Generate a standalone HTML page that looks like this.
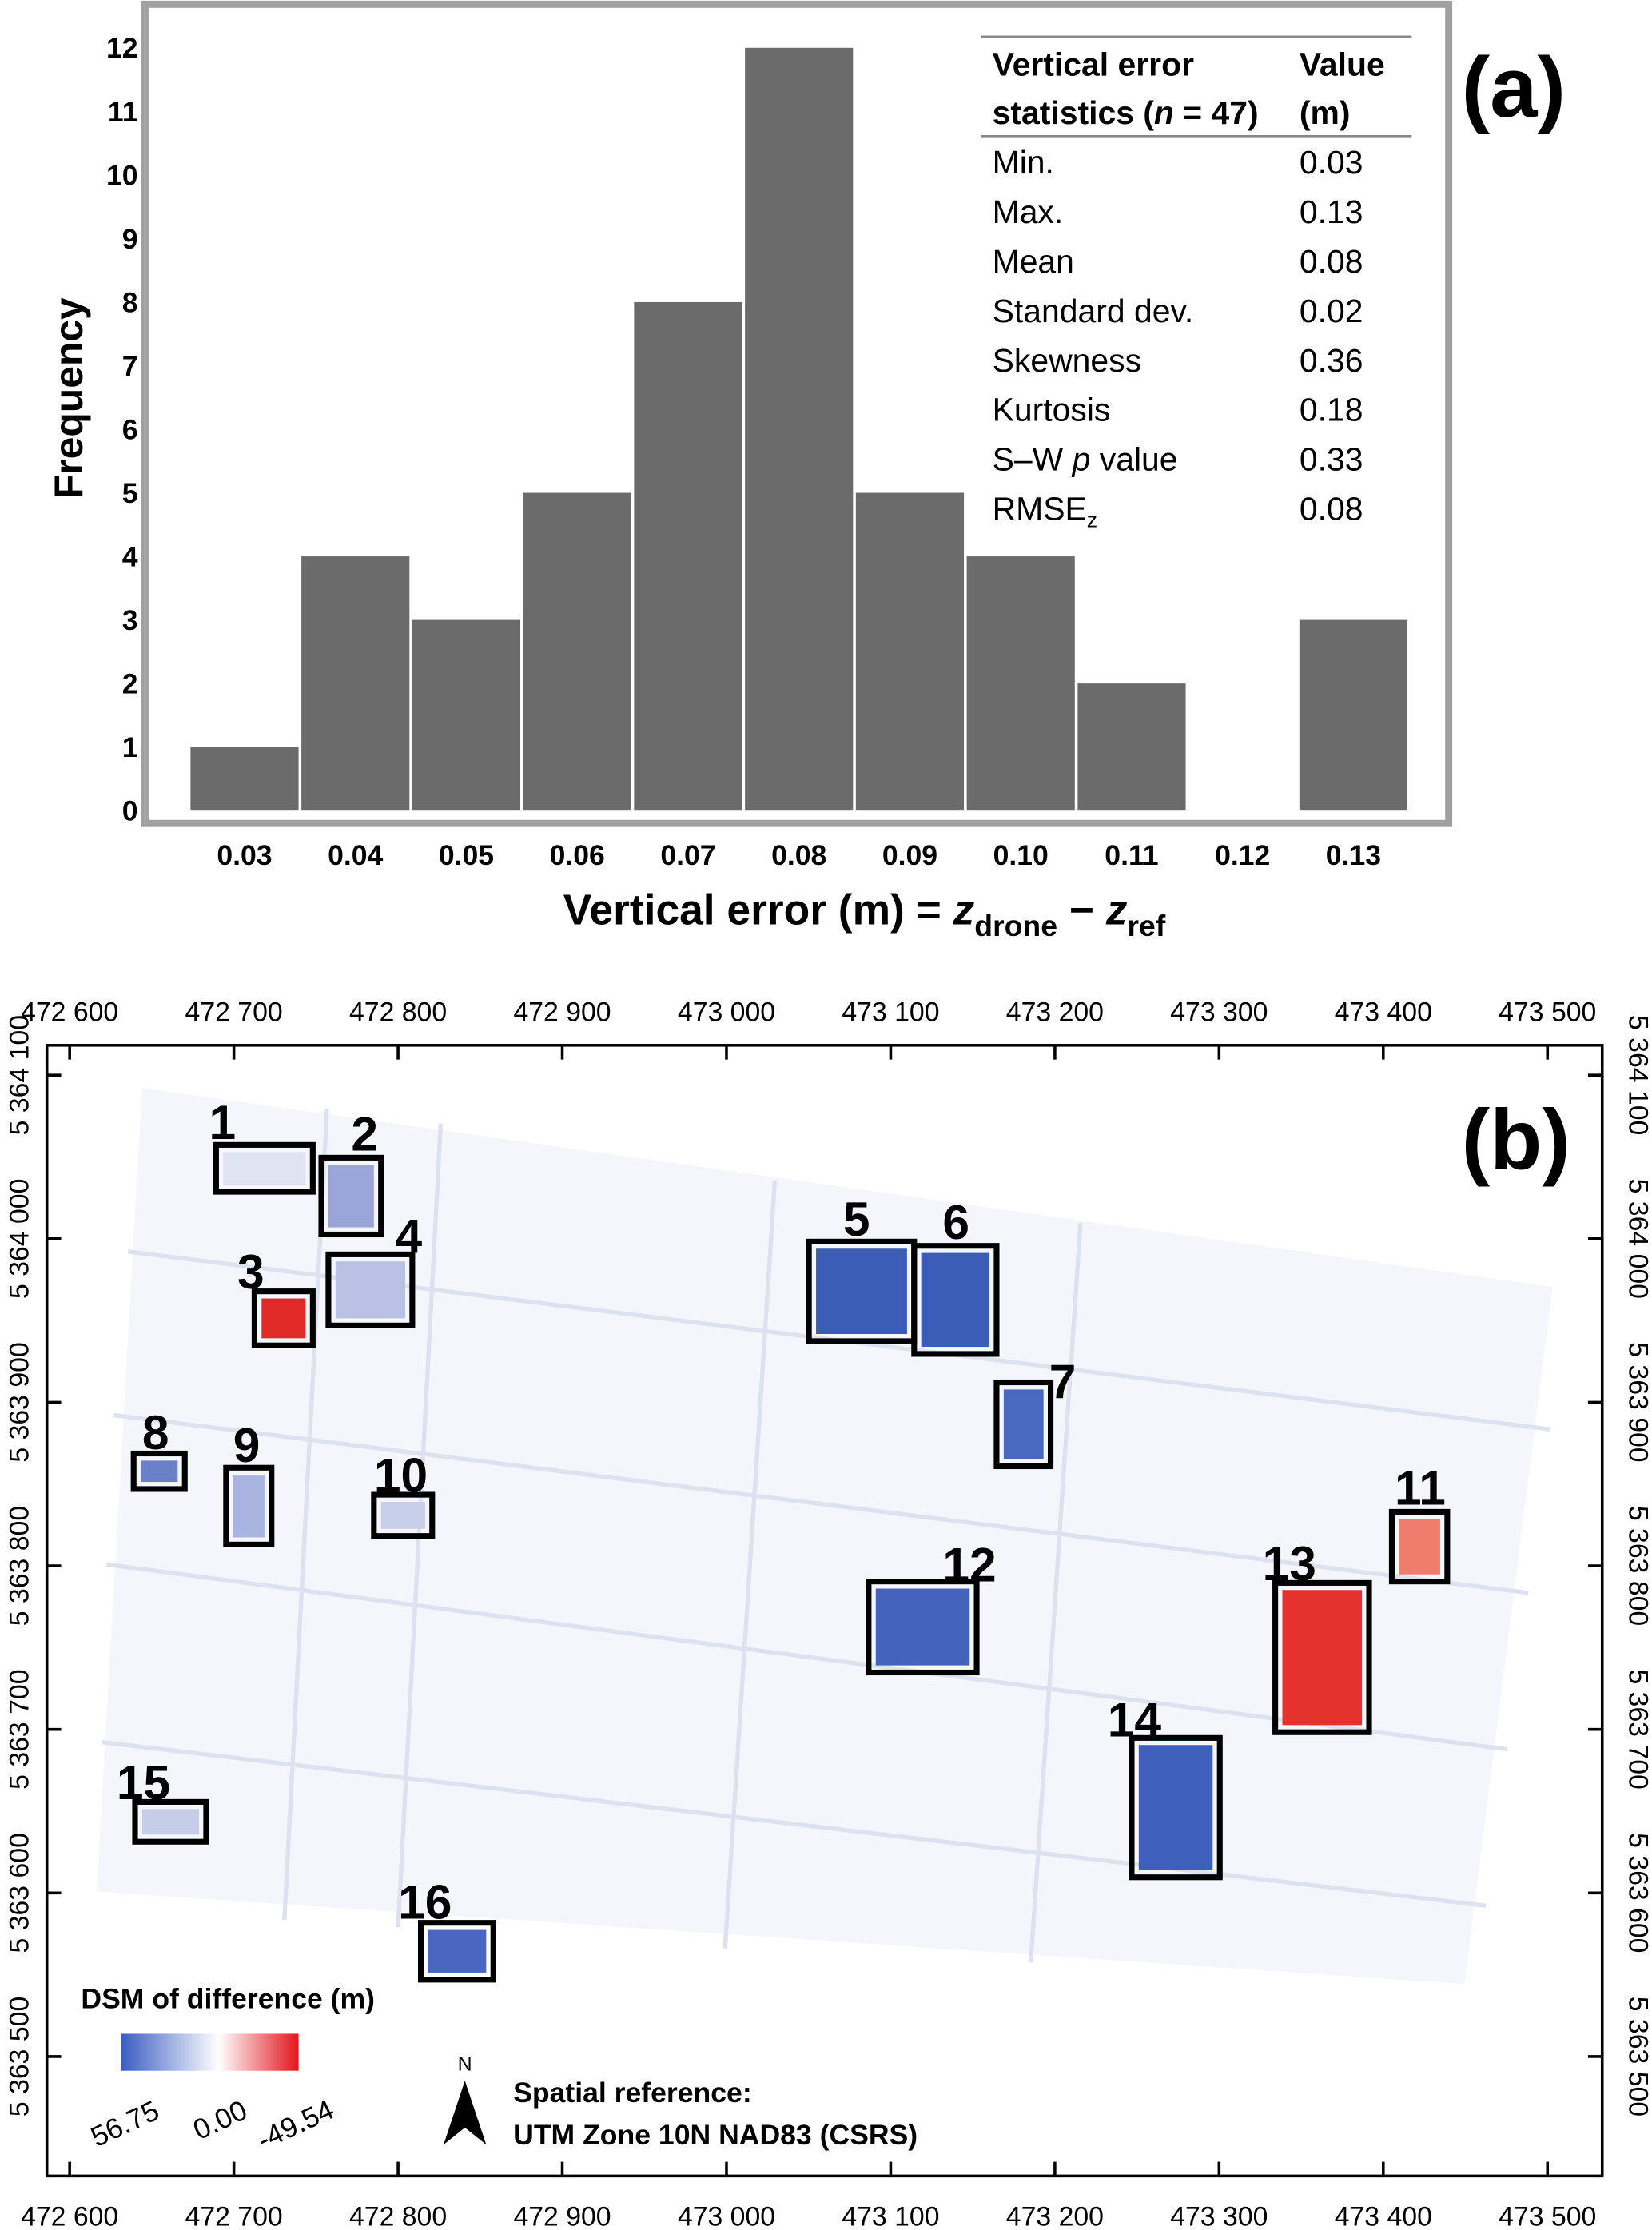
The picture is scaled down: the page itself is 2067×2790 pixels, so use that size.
<!DOCTYPE html>
<html><head><meta charset="utf-8"><style>
html,body{margin:0;padding:0;background:#fff}
svg{display:block}
text{font-family:"Liberation Sans",sans-serif}
</style></head><body>
<svg id="fig" width="2067" height="2790" viewBox="0 0 1162 1568" preserveAspectRatio="none" xmlns="http://www.w3.org/2000/svg">
<g id="panelA">
<rect x="102" y="3" width="917" height="576" fill="none" stroke="#a0a0a0" stroke-width="5"/>
<g id="bars"></g>
<g id="yticks"></g>
<g id="xticks"></g>
<text x="58" y="280" transform="rotate(-90 58 280)" text-anchor="middle" font-size="28" font-weight="bold">Frequency</text>
<text x="608" y="650" text-anchor="middle" font-size="30" font-weight="bold">Vertical error (m) = <tspan font-style="italic">z</tspan><tspan font-size="21" dy="8">drone</tspan><tspan dy="-8"> − </tspan><tspan font-style="italic">z</tspan><tspan font-size="21" dy="8">ref</tspan></text>
<g font-size="23">
<line x1="690" y1="26" x2="993" y2="26" stroke="#888" stroke-width="2"/>
<line x1="690" y1="96" x2="993" y2="96" stroke="#888" stroke-width="2"/>
<text x="698" y="53" font-weight="bold">Vertical error</text>
<text x="698" y="87" font-weight="bold">statistics (<tspan font-style="italic">n</tspan> = 47)</text>
<text x="914" y="53" font-weight="bold">Value</text>
<text x="914" y="87" font-weight="bold">(m)</text>
<g id="rows"></g>
</g>
<text x="1028" y="82" font-size="60" font-weight="bold">(a)</text>
</g>
<g id="panelB">
<polygon points="100,765 1092,905 1030,1395 68,1330" fill="#f5f6fb"/>
<g stroke="#dde1f0" stroke-width="3" fill="none">
<line x1="90" y1="880" x2="1090" y2="1005"/><line x1="80" y1="995" x2="1075" y2="1120"/>
<line x1="75" y1="1100" x2="1060" y2="1230"/><line x1="72" y1="1225" x2="1045" y2="1340"/>
<line x1="230" y1="780" x2="200" y2="1350"/><line x1="545" y1="830" x2="510" y2="1370"/>
<line x1="760" y1="860" x2="725" y2="1380"/><line x1="310" y1="790" x2="280" y2="1355"/>
</g>
<rect x="33" y="735" width="1094" height="795" fill="none" stroke="#000" stroke-width="2"/>
<g id="mapticks"></g>
<g id="boxes"></g>
<text x="1028" y="822" font-size="60" font-weight="bold">(b)</text>
<text x="57" y="1412" font-size="20" font-weight="bold">DSM of difference (m)</text>
<defs><linearGradient id="lg"><stop offset="0" stop-color="#3a5cc2"/><stop offset="0.55" stop-color="#ffffff"/><stop offset="1" stop-color="#e3141c"/></linearGradient></defs>
<rect x="85" y="1430" width="125" height="26" fill="url(#lg)"/>
<text x="68" y="1510" transform="rotate(-25 68 1510)" font-size="20">56.75</text>
<text x="140" y="1505" transform="rotate(-25 140 1505)" font-size="20">0.00</text>
<text x="185" y="1512" transform="rotate(-25 185 1512)" font-size="20">-49.54</text>
<text x="327" y="1456" text-anchor="middle" font-size="14" font-family="Liberation Serif,serif">N</text>
<polygon points="327,1463 312,1508 327,1496 342,1508" fill="#000"/>
<text x="361" y="1478" font-size="20" font-weight="bold">Spatial reference:</text>
<text x="361" y="1508" font-size="20" font-weight="bold">UTM Zone 10N NAD83 (CSRS)</text>
</g>
</svg>
<script>
const categories=["0.03","0.04","0.05","0.06","0.07","0.08","0.09","0.10","0.11","0.12","0.13"];
const frequencies=[1,4,3,5,8,12,5,4,2,0,3];
const yTicks=[0,1,2,3,4,5,6,7,8,9,10,11,12];
const statNames=["Min.","Max.","Mean","Standard dev.","Skewness","Kurtosis","S–W p value","RMSEz"];
const statValues=["0.03","0.13","0.08","0.02","0.36","0.18","0.33","0.08"];
const eastTicks=["472 600","472 700","472 800","472 900","473 000","473 100","473 200","473 300","473 400","473 500"];
const northTicks=["5 364 100","5 364 000","5 363 900","5 363 800","5 363 700","5 363 600","5 363 500"];
const NS="http://www.w3.org/2000/svg";
function mk(t,a,p){const e=document.createElementNS(NS,t);for(const k in a)e.setAttribute(k,a[k]);p.appendChild(e);return e;}
const yS=v=>570-v*44.7, xS=i=>172+i*78;
const bars=document.getElementById('bars');
frequencies.forEach((v,i)=>{if(v<=0)return;const r=mk('rect',{x:xS(i)-38,y:yS(v),width:76,height:570-yS(v),fill:'#6b6b6b'},bars);

});
const yt=document.getElementById('yticks');
yTicks.forEach(v=>{const t=mk('text',{x:97,y:yS(v)+7,'text-anchor':'end','font-size':20,'font-weight':'bold'},yt);t.textContent=v;

});
const xt=document.getElementById('xticks');
categories.forEach((c,i)=>{const t=mk('text',{x:xS(i),y:608,'text-anchor':'middle','font-size':20,'font-weight':'bold'},xt);t.textContent=c;

});
const rows=document.getElementById('rows');
statNames.forEach((n,i)=>{const y=122+i*34.8;
const a=mk('text',{x:698,y:y},rows);
if(n==="S–W p value"){a.innerHTML='S–W <tspan font-style="italic">p</tspan> value';}else if(n==="RMSEz"){a.innerHTML='RMSE<tspan font-size="15" dy="5">z</tspan>';}else a.textContent=n;


const b=mk('text',{x:914,y:y},rows);b.textContent=statValues[i];

});
const mt=document.getElementById('mapticks');
eastTicks.forEach((l,i)=>{const x=49+i*115.5;
mk('line',{x1:x,y1:735,x2:x,y2:745,stroke:'#000','stroke-width':2},mt);
mk('line',{x1:x,y1:1520,x2:x,y2:1530,stroke:'#000','stroke-width':2},mt);
const t=mk('text',{x:x,y:718,'text-anchor':'middle','font-size':19},mt);t.textContent=l;


const b=mk('text',{x:x,y:1565,'text-anchor':'middle','font-size':19},mt);b.textContent=l;

});
northTicks.forEach((l,i)=>{const y=756+i*115;
mk('line',{x1:33,y1:y,x2:43,y2:y,stroke:'#000','stroke-width':2},mt);
mk('line',{x1:1117,y1:y,x2:1127,y2:y,stroke:'#000','stroke-width':2},mt);
const t=mk('text',{x:20,y:y,'text-anchor':'middle','font-size':19,transform:`rotate(-90 20 ${y})`},mt);t.textContent=l;


const r=mk('text',{x:1146,y:y,'text-anchor':'middle','font-size':19,transform:`rotate(90 1146 ${y})`},mt);r.textContent=l;

});
const boxes=[["1",152,805,220,838,"#dfe3f2",147,800],["2",226,814,268,868,"#9aa6d8",247,808],["3",179,908,220,946,"#e02a28",167,905],["4",231,882,290,932,"#b9c1e4",278,880],
["5",569,873,643,943,"#3b5db8",593,868],["6",643,876,701,952,"#3b5db8",663,870],["7",701,972,739,1031,"#4a68c0",738,982],["8",94,1022,130,1047,"#6a80c8",100,1018],
["9",159,1032,191,1086,"#aab4e0",164,1027],["10",263,1051,304,1080,"#c8cfea",263,1048],["11",979,1063,1018,1112,"#ef7c6c",981,1057],["12",611,1112,687,1176,"#4563bc",663,1111],
["13",897,1113,963,1218,"#e5322c",888,1110],["14",796,1222,858,1320,"#3f5fbc",779,1220],["15",95,1267,145,1295,"#c6cde8",82,1264],["16",296,1352,347,1392,"#4a66c0",280,1348]];
const bg=document.getElementById('boxes');
boxes.forEach(b=>{const g=mk('g',{},bg);


mk('rect',{x:b[1]+5,y:b[2]+5,width:b[3]-b[1]-10,height:b[4]-b[2]-10,fill:b[5]},g);
mk('rect',{x:b[1],y:b[2],width:b[3]-b[1],height:b[4]-b[2],fill:'none',stroke:'#000','stroke-width':4},g);
const t=mk('text',{x:b[6],y:b[7]+1,'font-size':34,'font-weight':'bold'},g);t.textContent=b[0];});
</script>
</body></html>
